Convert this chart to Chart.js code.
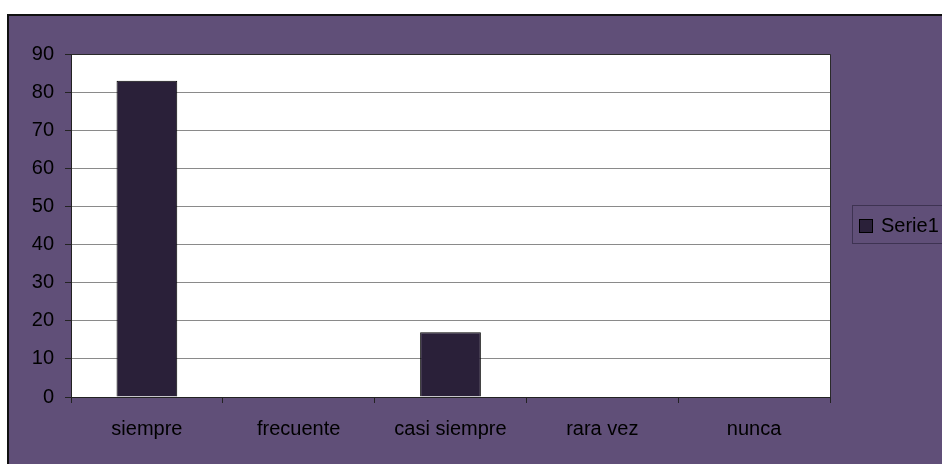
<!DOCTYPE html>
<html><head><meta charset="utf-8">
<script src="https://cdn.jsdelivr.net/npm/chart.js@4/dist/chart.umd.min.js"></script>
<style>html,body{margin:0;padding:0;background:#fff}#w{width:942px;height:464px}</style>
</head><body><div id="w"><canvas id="c" width="942" height="464"></canvas></div>
<script>
const categories = ["siempre", "frecuente", "casi siempre", "rara vez", "nunca"];
const serie1 = [83, 0, 17, 0, 0];
const seriesName = "Serie1";
const yTicks = [0, 10, 20, 30, 40, 50, 60, 70, 80, 90];

const PURPLE = "#604f78";
const BAR = "#2a2039";
const FONT = "'Liberation Sans', Arial, sans-serif";

const bgPlugin = {
  id: "bg",
  beforeDraw(chart) {
    const ctx = chart.ctx, a = chart.chartArea;
    ctx.save();
    ctx.fillStyle = "#fff";
    ctx.fillRect(0, 0, chart.width, chart.height);
    ctx.fillStyle = PURPLE;
    ctx.fillRect(7, 14, chart.width - 7, chart.height - 14);
    ctx.strokeStyle = "#111";
    ctx.lineWidth = 2;
    ctx.beginPath();
    ctx.moveTo(8, chart.height); ctx.lineTo(8, 15); ctx.lineTo(chart.width, 15);
    ctx.stroke();
    ctx.fillStyle = "#fff";
    ctx.fillRect(a.left, a.top, a.right - a.left, a.bottom - a.top);
    ctx.restore();
  },
  afterDraw(chart) {
    const ctx = chart.ctx, a = chart.chartArea;
    ctx.save();
    ctx.strokeStyle = "#2a2a2a";
    ctx.lineWidth = 1;
    ctx.beginPath();
    ctx.moveTo(a.left + 0.5, a.top + 0.5);
    ctx.lineTo(a.right + 0.5, a.top + 0.5);
    ctx.lineTo(a.right + 0.5, a.bottom);
    ctx.stroke();
    // legend
    const lx = 852, ly = 205;
    ctx.strokeStyle = "#3e3352";
    ctx.strokeRect(lx + 0.5, ly + 0.5, chart.width - lx + 5, 38);
    ctx.fillStyle = BAR;
    ctx.fillRect(860, 220, 12, 12);
    ctx.strokeStyle = "#000";
    ctx.strokeRect(859.5, 219.5, 13, 13);
    ctx.fillStyle = "#000";
    ctx.font = "20px " + FONT;
    ctx.textBaseline = "middle";
    ctx.fillText(seriesName, 881, 226);
    ctx.restore();
  }
};

new Chart(document.getElementById("c"), {
  type: "bar",
  data: {
    labels: categories,
    datasets: [{
      label: seriesName,
      data: serie1,
      backgroundColor: BAR,
      borderColor: "#000",
      borderWidth: 1,
      barPercentage: 0.4,
      categoryPercentage: 1.0
    }]
  },
  options: {
    responsive: false,
    animation: false,
    devicePixelRatio: 1,
    layout: { padding: { left: 7, top: 54, right: 112, bottom: 0 } },
    plugins: { legend: { display: false }, tooltip: { enabled: false } },
    scales: {
      x: {
        offset: true,
        afterFit(s) { s.height = 464 - 397; },
        grid: { display: true, drawOnChartArea: false, drawTicks: true, tickLength: 6, color: "#222", offset: true },
        border: { display: true, color: "#222", width: 1 },
        ticks: { color: "#000", font: { family: FONT, size: 20 }, padding: 14 }
      },
      y: {
        min: 0, max: 90,
        afterFit(s) { s.width = 71 - 7; },
        afterBuildTicks(s) { s.ticks = yTicks.map(v => ({ value: v })); },
        grid: { color: "#8a8a8a", tickLength: 6, tickColor: "#222" },
        border: { display: true, color: "#222", width: 1 },
        ticks: { color: "#000", font: { family: FONT, size: 20 }, padding: 11 }
      }
    }
  },
  plugins: [bgPlugin]
});
</script></body></html>
